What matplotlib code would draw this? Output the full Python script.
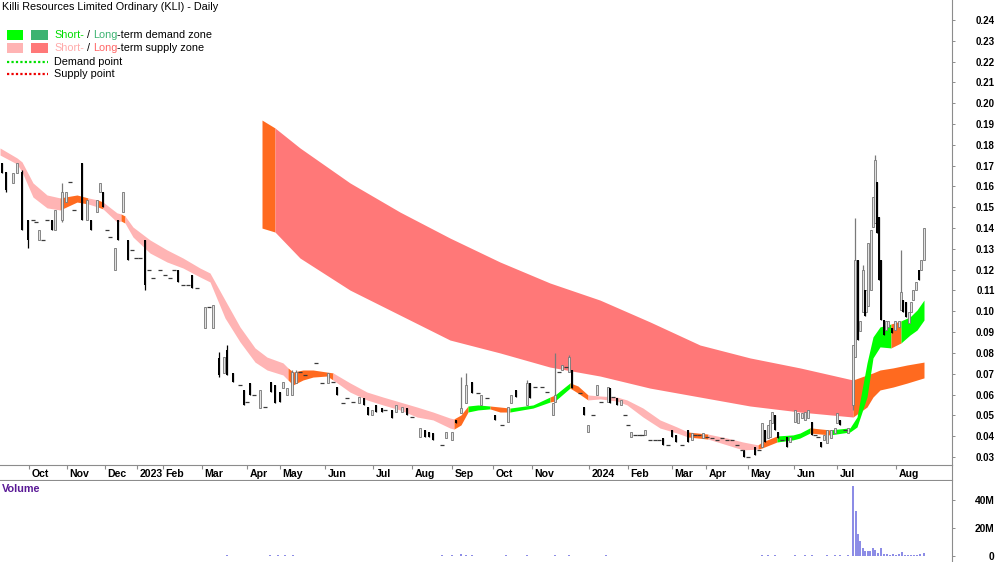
"""Killi Resources (KLI) daily candles with short/long-term supply-demand zones
and a volume strip underneath. x values are chart slot positions (the session
axis skips untraded days, so months are not evenly spaced).
"""
import matplotlib

matplotlib.use("Agg")
import matplotlib.pyplot as plt  # noqa: E402
import numpy as np  # noqa: E402

plt.rcParams["font.family"] = ["Liberation Sans", "DejaVu Sans"]

TITLE = "Killi Resources Limited Ordinary (KLI) - Daily"

month_pos = [29, 67, 105, 137, 163, 202, 247, 280, 325, 373, 412,
             452, 493, 532, 589, 628, 672, 706, 748, 794, 837, 896]
month_labels = ["Oct", "Nov", "Dec", "2023", "Feb", "Mar", "Apr", "May", "Jun",
                "Jul", "Aug", "Sep", "Oct", "Nov", "2024", "Feb", "Mar", "Apr",
                "May", "Jun", "Jul", "Aug"]
price_ticks = [0.03, 0.04, 0.05, 0.06, 0.07, 0.08, 0.09, 0.10, 0.11, 0.12, 0.13,
               0.14, 0.15, 0.16, 0.17, 0.18, 0.19, 0.20, 0.21, 0.22, 0.23, 0.24]
vol_ticks = [0, 20, 40]  # millions
vol_tick_labels = ["0", "20M", "40M"]

# ---- daily bars (slot, open, high, low, close) ------------------------------
bar_x = [
    2, 6, 13, 17, 22, 28, 33, 36, 39, 43,
    47, 52, 55, 62, 66, 70, 74, 82, 87, 91,
    97, 100, 103, 107, 110, 115, 118, 123, 128, 132,
    136, 140, 145, 149, 153, 160, 165, 170, 174, 178,
    183, 188, 192, 197, 205, 209, 213,
    219, 224, 227, 233, 240, 244, 247, 250, 254, 260,
    265, 271, 275, 280, 283, 287, 292, 296, 300, 305,
    316, 322, 328, 333, 337, 343, 347, 353, 359, 364,
    368, 372, 376, 382, 385, 392, 396, 402, 407, 412,
    420, 425, 429, 433, 442, 446, 452, 456, 461, 466,
    472, 478, 481, 487, 495, 502, 508, 511, 516, 527,
    530, 535, 542, 547, 553, 555, 559, 562, 566, 569,
    572, 580, 584, 588, 593, 597, 601, 608, 610, 613,
    617, 621, 625, 628, 631, 635, 639, 642, 645, 650,
    655, 659, 663, 668, 672, 676, 682, 688, 692, 695,
    699, 703, 707, 712, 717, 722, 727, 732, 737, 742,
    744, 748, 755, 759, 762, 765, 768, 770, 772, 775,
    778, 782, 787, 790, 795, 798, 802, 805, 808, 812,
    815, 818, 821, 824, 827, 831, 835, 837, 840, 845,
    848,
    853, 855, 858, 860, 863, 865, 866, 868, 871, 873,
    875, 877, 879, 881, 884, 886, 888, 892, 895, 899,
    901, 903, 906, 909, 911, 913, 916, 919, 921, 924,
]
bar_open = [
    .1713, .1670, .1617, .1665, .1670, .1439, .1439, .1429, .1343, .1343,
    .1439, .1439, .1391, .1439, .1525, .1621, .1487, .1713, .1439, .1439,
    .1477, .1573, .1573, .1391, .1357, .1199, .1439, .1477, .1343, .1295,
    .1256, .1256, .1343, .1199, .1161, .1199, .1175, .1161, .1199, .1199,
    .1127, .1127, .1175, .1113, .0920, .1021, .0920,
    .0776, .0704, .0814, .0704, .0646, .0622, .0564, .0656, .0598, .0535,
    .0540, .0661, .0646, .0612, .0631, .0598, .0598, .0656, .0708, .0694,
    .0752, .0656, .0656, .0661, .0636, .0560, .0584, .0564, .0560, .0584,
    .0540, .0502, .0550, .0535, .0526, .0526, .0516, .0516, .0535, .0492,
    .0396, .0430, .0420, .0416, .0358, .0391, .0382, .0478, .0511, .0560,
    .0661, .0607, .0550, .0584, .0502, .0454, .0469, .0560, .0622, .0550,
    .0656, .0636, .0636, .0612, .0502, .0564, .0708, .0718, .0732, .0708,
    .0718, .0607, .0540, .0420, .0502, .0598, .0564, .0564, .0631, .0588,
    .0584, .0550, .0502, .0454, .0396, .0406, .0406, .0406, .0406, .0382,
    .0382, .0382, .0391, .0358, .0430, .0406, .0358, .0430, .0382, .0406,
    .0406, .0391, .0396, .0391, .0382, .0391, .0382, .0382, .0358, .0334,
    .0334, .0300, .0348, .0334, .0348, .0430, .0391, .0396, .0464, .0502,
    .0420, .0382, .0396, .0372, .0469, .0464, .0487, .0478, .0487, .0469,
    .0406, .0396, .0372, .0382, .0367, .0391, .0416, .0464, .0478, .0430,
    .0416,
    .0550, .0781, .1247, .0905, .0997, .1103, .0997, .1026, .1103, .1405,
    .1424, .1621, .1452, .1247, .0958, .0910, .0925, .0920, .0910, .0925,
    .1006, .1055, .1045, .0944, .0997, .1055, .1103, .1199, .1199, .1247,
]
bar_high = [
    .1713, .1670, .1665, .1713, .1679, .1439, .1439, .1429, .1391, .1343,
    .1439, .1439, .1487, .1617, .1573, .1621, .1487, .1713, .1535, .1439,
    .1535, .1617, .1573, .1391, .1357, .1305, .1439, .1573, .1343, .1295,
    .1256, .1256, .1343, .1199, .1161, .1199, .1175, .1161, .1199, .1199,
    .1127, .1127, .1175, .1113, .1021, .1021, .1030,
    .0805, .0781, .0838, .0704, .0646, .0622, .0564, .0656, .0598, .0622,
    .0540, .0661, .0646, .0612, .0661, .0631, .0718, .0718, .0708, .0694,
    .0752, .0656, .0704, .0661, .0636, .0560, .0584, .0564, .0588, .0584,
    .0540, .0526, .0550, .0535, .0526, .0526, .0550, .0540, .0535, .0492,
    .0439, .0430, .0420, .0416, .0358, .0420, .0420, .0478, .0685, .0704,
    .0661, .0607, .0598, .0584, .0502, .0454, .0540, .0598, .0622, .0670,
    .0656, .0636, .0636, .0612, .0560, .0799, .0708, .0742, .0732, .0790,
    .0718, .0607, .0540, .0454, .0502, .0646, .0564, .0636, .0631, .0588,
    .0584, .0574, .0502, .0454, .0420, .0406, .0406, .0406, .0430, .0382,
    .0382, .0382, .0391, .0358, .0430, .0406, .0358, .0430, .0416, .0406,
    .0406, .0416, .0396, .0391, .0382, .0391, .0382, .0382, .0358, .0334,
    .0334, .0300, .0348, .0334, .0464, .0430, .0454, .0478, .0516, .0502,
    .0420, .0382, .0396, .0396, .0526, .0511, .0511, .0516, .0526, .0469,
    .0406, .0396, .0372, .0406, .0430, .0430, .0439, .0511, .0478, .0430,
    .0439,
    .0838, .1448, .1247, .0953, .1223, .1103, .1103, .1329, .1391, .1549,
    .1751, .1621, .1452, .1247, .0958, .0953, .0953, .0920, .0953, .0953,
    .1295, .1055, .1045, .0997, .1045, .1103, .1141, .1199, .1247, .1400,
]
bar_low = [
    .1665, .1573, .1617, .1665, .1391, .1305, .1439, .1429, .1343, .1343,
    .1439, .1391, .1391, .1429, .1525, .1621, .1487, .1439, .1439, .1391,
    .1477, .1573, .1501, .1391, .1357, .1199, .1343, .1477, .1247, .1295,
    .1256, .1256, .1103, .1199, .1161, .1199, .1175, .1161, .1199, .1141,
    .1127, .1127, .1113, .1113, .0920, .1021, .0920,
    .0685, .0704, .0694, .0661, .0646, .0550, .0564, .0598, .0598, .0535,
    .0540, .0612, .0560, .0564, .0631, .0598, .0598, .0656, .0708, .0694,
    .0752, .0656, .0656, .0661, .0598, .0560, .0584, .0564, .0560, .0550,
    .0502, .0502, .0516, .0516, .0526, .0487, .0516, .0516, .0502, .0492,
    .0396, .0396, .0396, .0382, .0358, .0391, .0382, .0464, .0511, .0560,
    .0607, .0607, .0550, .0584, .0478, .0454, .0469, .0560, .0588, .0550,
    .0584, .0636, .0636, .0612, .0502, .0564, .0708, .0718, .0732, .0708,
    .0631, .0607, .0502, .0420, .0502, .0598, .0564, .0564, .0560, .0588,
    .0550, .0550, .0502, .0454, .0396, .0406, .0406, .0406, .0406, .0382,
    .0382, .0382, .0358, .0358, .0396, .0372, .0358, .0372, .0382, .0406,
    .0406, .0391, .0396, .0391, .0382, .0391, .0382, .0382, .0358, .0334,
    .0300, .0300, .0309, .0334, .0348, .0372, .0391, .0396, .0464, .0430,
    .0391, .0382, .0348, .0372, .0469, .0464, .0487, .0478, .0487, .0406,
    .0406, .0396, .0348, .0382, .0367, .0391, .0416, .0464, .0454, .0430,
    .0416,
    .0526, .0781, .0862, .0905, .0997, .0978, .0997, .1026, .1103, .1405,
    .1424, .1377, .1151, .0958, .0886, .0910, .0925, .0896, .0910, .0925,
    .1006, .0997, .0973, .0944, .0997, .1055, .1103, .1151, .1199, .1247,
]
bar_close = [
    .1665, .1583, .1665, .1713, .1391, .1343, .1439, .1429, .1391, .1343,
    .1439, .1391, .1487, .1573, .1573, .1621, .1487, .1439, .1535, .1391,
    .1535, .1617, .1501, .1391, .1357, .1305, .1343, .1573, .1247, .1295,
    .1256, .1256, .1127, .1199, .1161, .1199, .1175, .1161, .1199, .1141,
    .1127, .1127, .1113, .1113, .1021, .1021, .1030,
    .0694, .0781, .0694, .0661, .0646, .0550, .0564, .0598, .0598, .0622,
    .0540, .0612, .0560, .0564, .0661, .0631, .0708, .0708, .0708, .0694,
    .0752, .0656, .0704, .0661, .0598, .0560, .0584, .0564, .0588, .0550,
    .0502, .0526, .0516, .0516, .0526, .0487, .0550, .0540, .0502, .0492,
    .0439, .0396, .0396, .0382, .0358, .0420, .0420, .0464, .0535, .0646,
    .0607, .0607, .0598, .0584, .0478, .0454, .0540, .0598, .0588, .0656,
    .0584, .0636, .0636, .0612, .0560, .0598, .0708, .0742, .0732, .0781,
    .0631, .0607, .0502, .0454, .0502, .0646, .0564, .0636, .0560, .0588,
    .0550, .0574, .0502, .0454, .0420, .0406, .0406, .0406, .0430, .0382,
    .0382, .0382, .0358, .0358, .0396, .0372, .0358, .0372, .0416, .0406,
    .0406, .0416, .0396, .0391, .0382, .0391, .0382, .0382, .0358, .0334,
    .0300, .0300, .0309, .0334, .0464, .0372, .0454, .0478, .0516, .0430,
    .0391, .0382, .0348, .0396, .0526, .0511, .0511, .0516, .0526, .0406,
    .0406, .0396, .0348, .0406, .0430, .0430, .0439, .0511, .0454, .0430,
    .0439,
    .0838, .1247, .0862, .0953, .1199, .0978, .1103, .1329, .1391, .1549,
    .1727, .1377, .1151, .0958, .0886, .0953, .0953, .0896, .0953, .0953,
    .1093, .0997, .0973, .0997, .1045, .1103, .1141, .1151, .1247, .1400,
]

# ---- short-term zone: S = supply, D = demand, O = crossover -----------------
st_x = [0, 17, 22, 33, 47, 60, 77, 88, 98, 103,
        117, 121, 125, 133, 150, 167, 183, 200, 210, 225,
        240, 255, 267, 283, 288, 293, 303, 313, 327, 333,
        350, 367, 383, 400, 417, 433, 450, 454, 461, 468,
        478, 490, 500, 510, 533, 550, 555, 570, 578, 588,
        600, 617, 627, 643, 660, 677, 688, 708, 727, 743,
        758, 762, 777, 793, 800, 810, 830, 850, 857, 867,
        873, 880, 891, 901, 910, 917, 924]
st_top = [.1785, .1737, .1718, .1617, .1559, .1545, .1559, .1545, .1535, .1525,
          .1473, .1468, .1458, .1405, .1343, .1295, .1256, .1208, .1184, .1054,
          .0925, .0824, .0780, .0752, .0728, .0708, .0718, .0718, .0708, .0704,
          .0656, .0612, .0588, .0564, .0540, .0516, .0487, .0483, .0502, .0545,
          .0550, .0545, .0540, .0535, .0550, .0588, .0598, .0656, .0641, .0598,
          .0593, .0588, .0574, .0535, .0478, .0444, .0420, .0410, .0391, .0372,
          .0358, .0372, .0401, .0406, .0415, .0440, .0430, .0440, .0492, .0752,
          .0877, .0925, .0939, .0954, .0973, .1006, .1054]
st_bot = [.1751, .1708, .1670, .1549, .1497, .1487, .1525, .1516, .1501, .1492,
          .1429, .1434, .1424, .1357, .1280, .1237, .1208, .1165, .1141, .0968,
          .0853, .0756, .0718, .0694, .0670, .0646, .0670, .0684, .0689, .0670,
          .0612, .0574, .0550, .0526, .0492, .0478, .0439, .0434, .0454, .0516,
          .0526, .0531, .0516, .0516, .0535, .0564, .0569, .0631, .0607, .0574,
          .0579, .0569, .0550, .0492, .0439, .0415, .0396, .0386, .0358, .0334,
          .0338, .0343, .0372, .0382, .0391, .0415, .0406, .0420, .0444, .0588,
          .0776, .0829, .0824, .0848, .0886, .0910, .0958]
st_state = ("SSSSSOOSOSSOSSSSSSSSSSSSOOOOOSSSSSSSSOODDOODDODOOSSSSSSSOSSSOODDDODDDDDDODDD")

# ---- long-term zone ---------------------------------------------------------
lt_x = [262, 275, 300, 350, 400, 450, 500, 550, 600, 650,
        700, 750, 800, 853, 867, 873, 880, 893, 907, 924]
lt_top = [.1919, .1881, .1785, .1617, .1477, .1352, .1237, .1136, .1054, .0949,
          .0838, .0776, .0728, .0670, .0694, .0704, .0718, .0728, .0742, .0756]
lt_bot = [.1400, .1381, .1256, .1102, .0982, .0862, .0800, .0732, .0689, .0631,
          .0588, .0545, .0516, .0492, .0540, .0588, .0622, .0636, .0655, .0680]
lt_state = "OSSSSSSSSSSSSOOOOOO"

# ---- volume (millions) ------------------------------------------------------
vol_x = [227, 270, 278, 285, 293, 340, 356, 442, 452, 461, 466, 472, 506, 527,
         555, 569, 580, 606, 660, 689, 743, 762, 768, 775, 795, 805, 812, 827,
         835, 840, 848,
         853, 856, 858, 860, 863, 865, 868, 870, 873, 875, 878, 881, 884, 887,
         890, 893, 896, 899, 902, 905, 908, 911, 914, 917, 920, 924]
vol_m = [0.4, 0.4, 0.5, 0.4, 0.5, 0.3, 0.3, 0.4, 0.5, 1.2, 0.8, 0.4, 0.4, 0.6,
         0.6, 0.5, 0.3, 0.4, 0.3, 0.3, 0.3, 0.8, 0.6, 0.5, 0.7, 0.6, 0.5, 0.5,
         0.6, 0.4, 0.8,
         50.0, 32.0, 16.0, 11.0, 5.5, 3.5, 3.5, 3.5, 5.5, 4.5, 2.0, 6.0, 1.5, 1.2,
         1.0, 1.2, 1.0, 1.5, 3.0, 1.0, 1.0, 0.8, 1.0, 1.0, 1.2, 2.0]

SHORT_COLORS = {"S": "#ffb4b4", "O": "#ff6a1f", "D": "#00ff00"}
LONG_COLORS = {"S": "#ff7878", "O": "#ff6a1f", "D": "#3cb371"}
GRID = "#8c8c8c"
W, H = 1000, 562
RIGHT = 952


def draw_zone(ax, xs, tops, bots, states, palette, z):
    xs, tops, bots = np.asarray(xs), np.asarray(tops), np.asarray(bots)
    start = 0
    for i in range(1, len(states) + 1):
        if i == len(states) or states[i] != states[start]:
            sl = slice(start, i + 1)
            ax.fill_between(xs[sl], bots[sl], tops[sl], color=palette[states[start]],
                            lw=0, zorder=z)
            start = i


def right_labels(ax, size):
    ax.yaxis.tick_right()
    ax.tick_params(axis="y", direction="out", length=2.2, width=0.7, color=GRID,
                   pad=28.5, labelsize=size)
    for lbl in ax.get_yticklabels():
        lbl.set_horizontalalignment("right")
        lbl.set_fontweight("bold")


fig = plt.figure(figsize=(W / 100, H / 100), dpi=100)

# price panel
ax = fig.add_axes([0, 1 - 465 / H, RIGHT / W, 465 / H])
ax.set_xlim(0, RIGHT)
ax.set_ylim((519.4 - 465) / 2081, 0.2496)
for side in ("top", "left", "bottom"):
    ax.spines[side].set_visible(False)
ax.spines["right"].set_color(GRID)
ax.set_xticks([])
ax.set_yticks(price_ticks)
ax.set_yticklabels([f"{v:.2f}" for v in price_ticks])
right_labels(ax, 7)

draw_zone(ax, lt_x, lt_top, lt_bot, lt_state, LONG_COLORS, 1)
draw_zone(ax, st_x, st_top, st_bot, st_state, SHORT_COLORS, 2)

bx = np.array(bar_x, float)
bo, bh = np.array(bar_open), np.array(bar_high)
bl, bc = np.array(bar_low), np.array(bar_close)
up, dn, flat = bc > bo, bc < bo, bc == bo
ax.vlines(bx[up], bl[up], bh[up], color="#7a7a7a", lw=0.9, zorder=3)
ax.bar(bx[up], bc[up] - bo[up], bottom=bo[up], width=2.2, facecolor="#e2e2e2",
       edgecolor="#777777", lw=0.6, zorder=4)
ax.vlines(bx[dn], bl[dn], bh[dn], color="black", lw=0.9, zorder=3)
ax.bar(bx[dn], bo[dn] - bc[dn], bottom=bc[dn], width=2.2, color="black", lw=0,
       zorder=4)
ax.hlines(bo[flat], bx[flat] - 1.6, bx[flat] + 1.6, color="#3a3a3a", lw=0.9, zorder=4)

# date strip
axd = fig.add_axes([0, 1 - 480 / H, RIGHT / W, 15 / H])
axd.set_xlim(0, RIGHT)
axd.set_ylim(0, 1)
axd.set_xticks([])
axd.set_yticks([])
axd.spines["left"].set_visible(False)
for side in ("top", "bottom", "right"):
    axd.spines[side].set_color(GRID)
axd.vlines(month_pos, 0.72, 1.0, color=GRID, lw=0.8)
for pos, lab in zip(month_pos, month_labels):
    axd.text(pos + 2.5, 0.42, lab, ha="left", va="center", fontsize=7.6,
             fontweight="bold")

# volume panel
axv = fig.add_axes([0, 0, RIGHT / W, 81 / H])
axv.set_xlim(0, RIGHT)
axv.set_ylim(-4.3, 53.6)
for side in ("top", "left", "bottom"):
    axv.spines[side].set_visible(False)
axv.spines["right"].set_color(GRID)
axv.set_xticks([])
axv.set_yticks(vol_ticks)
axv.set_yticklabels(vol_tick_labels)
right_labels(axv, 7.4)
axv.bar(vol_x, vol_m, width=1.2, color="#8c8ce6", lw=0)

# title + legend overlay (pixel coordinates)
ov = fig.add_axes([0, 0, 1, 1], zorder=5)
ov.set_xlim(0, W)
ov.set_ylim(H, 0)
ov.axis("off")
ov.text(2, 7, TITLE, ha="left", va="center", fontsize=7.8)
ov.text(2, 489, "Volume", ha="left", va="center", fontsize=7.8,
        fontweight="bold", color="#5a1a96")

ov.add_patch(plt.Rectangle((7, 30), 16, 10, color=SHORT_COLORS["D"], lw=0))
ov.add_patch(plt.Rectangle((31, 30), 17, 10, color=LONG_COLORS["D"], lw=0))
ov.add_patch(plt.Rectangle((7, 43), 16, 10, color=SHORT_COLORS["S"], lw=0))
ov.add_patch(plt.Rectangle((31, 43), 17, 10, color=LONG_COLORS["S"], lw=0))
ov.plot([7, 48], [62, 62], color="#00e000", lw=1.6, ls=(0, (1, 1)))
ov.plot([7, 48], [74, 74], color="#ee0000", lw=1.6, ls=(0, (1, 1)))


def multicolor(x, y, parts, size=7.8):
    t = ov.text(x, y, parts[0][0], color=parts[0][1], ha="left", va="center",
                fontsize=size)
    for s, c in parts[1:]:
        t = ov.annotate(s, xy=(1, 0), xycoords=t, ha="left", va="bottom",
                        color=c, fontsize=size)


multicolor(54, 35, [("Short-", "#00dd00"), (" / ", "black"), ("Long", "#3cb371"),
                    ("-term demand zone", "black")])
multicolor(54, 48, [("Short-", "#ffaaaa"), (" / ", "black"), ("Long", "#ff6666"),
                    ("-term supply zone", "black")])
ov.text(54, 62, "Demand point", ha="left", va="center", fontsize=7.8)
ov.text(54, 74, "Supply point", ha="left", va="center", fontsize=7.8)

fig.savefig("out.png", dpi=100)
